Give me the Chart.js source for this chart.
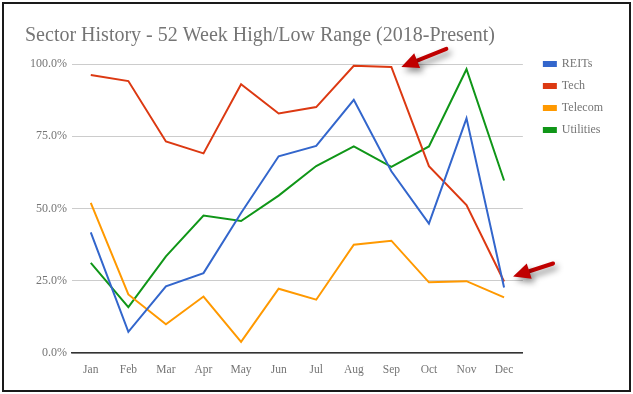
<!DOCTYPE html>
<html>
<head>
<meta charset="utf-8">
<script src="https://cdn.jsdelivr.net/npm/chart.js@4/dist/chart.umd.min.js"></script>
<style>
    body { margin: 0; background: #fff; }
    .frame {
        position: absolute;
        left: 2px;
        top: 2px;
        width: 629px;
        height: 390px;
        box-sizing: border-box;
        border: 2px solid #1a1a1a;
        background: #fff;
    }
    canvas { display: block; }
</style>
</head>
<body>
<div class="frame">
    <canvas id="chart" width="625" height="386"></canvas>
</div>
<script>
const months = ['Jan', 'Feb', 'Mar', 'Apr', 'May', 'Jun', 'Jul', 'Aug', 'Sep', 'Oct', 'Nov', 'Dec'];

const reits = [41.8, 7.4, 23.1, 27.7, 48.5, 68.1, 71.7, 87.6, 62.9, 44.8, 81.2, 22.7];
const tech = [96.2, 94.1, 73.2, 69.1, 93.0, 82.9, 85.1, 99.4, 99.0, 64.7, 51.2, 24.8];
const telecom = [52.0, 20.3, 10.0, 19.6, 3.9, 22.3, 18.5, 37.5, 38.9, 24.5, 24.9, 19.3];
const utilities = [31.2, 15.9, 33.5, 47.6, 45.7, 54.5, 64.7, 71.5, 64.4, 71.5, 98.2, 59.7];

const yTicks = [0, 25, 50, 75, 100];

// arrows point at these (series index, month index)
const arrowTargets = [
    {dataset: 1, index: 8, dx: 10, dy: 0, tailDx: 45, tailDy: -18},
    {dataset: 1, index: 11, dx: 9, dy: -5, tailDx: 40, tailDy: -13},
];

const serif = "'Liberation Serif', 'Times New Roman', serif";
const grey = '#757575';

function drawArrow(ctx, tipX, tipY, tailX, tailY) {
    const ang = Math.atan2(tipY - tailY, tipX - tailX);
    const headLen = 17;
    const headW = 8;
    const baseX = tipX - headLen * Math.cos(ang);
    const baseY = tipY - headLen * Math.sin(ang);
    const nx = -Math.sin(ang), ny = Math.cos(ang);

    ctx.save();
    ctx.shadowColor = 'rgba(0,0,0,0.45)';
    ctx.shadowBlur = 6;
    ctx.shadowOffsetX = 3;
    ctx.shadowOffsetY = 4;
    ctx.fillStyle = '#c00000';
    ctx.strokeStyle = '#c00000';
    ctx.lineWidth = 4;
    ctx.lineCap = 'round';
    ctx.beginPath();
    ctx.moveTo(tailX, tailY);
    ctx.lineTo(baseX, baseY);
    ctx.stroke();
    ctx.beginPath();
    ctx.moveTo(tipX, tipY);
    ctx.lineTo(baseX + nx * headW, baseY + ny * headW);
    ctx.lineTo(baseX - nx * headW, baseY - ny * headW);
    ctx.closePath();
    ctx.fill();
    ctx.restore();
}

const arrowPlugin = {
    id: 'arrows',
    afterDraw(chart) {
        const {ctx} = chart;
        arrowTargets.forEach(t => {
            const x = chart.scales.x.getPixelForValue(t.index);
            const y = chart.scales.y.getPixelForValue(chart.data.datasets[t.dataset].data[t.index]);
            const tipX = x + t.dx, tipY = y + t.dy;
            drawArrow(ctx, tipX, tipY, tipX + t.tailDx, tipY + t.tailDy);
        });
    }
};

// push the legend a bit further from the plot and level with the top gridline
const legendShift = {
    id: 'legendShift',
    afterLayout(chart) {
        chart.legend.left += 11;
        chart.legend.right += 11;
        chart.legend.top -= 16;
        chart.legend.bottom -= 16;
    }
};

function series(label, data, color) {
    return {
        label,
        data,
        borderColor: color,
        backgroundColor: color,
        borderWidth: 2,
        pointRadius: 0,
        tension: 0,
    };
}

new Chart(document.getElementById('chart'), {
    type: 'line',
    data: {
        labels: months,
        datasets: [
            series('REITs', reits, '#3366cc'),
            series('Tech', tech, '#dc3912'),
            series('Telecom', telecom, '#ff9900'),
            series('Utilities', utilities, '#109618'),
        ]
    },
    options: {
        responsive: false,
        animation: false,
        layout: {
            padding: {left: 21, right: 27, bottom: 11}
        },
        plugins: {
            title: {
                display: true,
                text: 'Sector History - 52 Week High/Low Range (2018-Present)',
                align: 'start',
                color: grey,
                font: {family: serif, size: 20, weight: 'normal'},
                padding: {top: 20, bottom: 16}
            },
            legend: {
                position: 'right',
                align: 'start',
                fullSize: false,
                labels: {
                    boxWidth: 12,
                    boxHeight: 4,
                    color: grey,
                    padding: 10,
                    font: {family: serif, size: 12}
                }
            },
            tooltip: {enabled: false}
        },
        scales: {
            x: {
                offset: true,
                grid: {display: false},
                border: {color: '#333', width: 1.5},
                ticks: {color: grey, font: {family: serif, size: 11.5}, padding: 2}
            },
            y: {
                min: 0,
                max: 100,
                afterBuildTicks: (axis) => {
                    axis.ticks = yTicks.map(v => ({value: v}));
                },
                grid: {color: '#cccccc', drawTicks: false},
                border: {display: false},
                ticks: {
                    color: grey,
                    padding: 5,
                    font: {family: serif, size: 12},
                    callback: (v) => v.toFixed(1) + '%'
                }
            }
        }
    },
    plugins: [arrowPlugin, legendShift]
});
</script>
</body>
</html>
